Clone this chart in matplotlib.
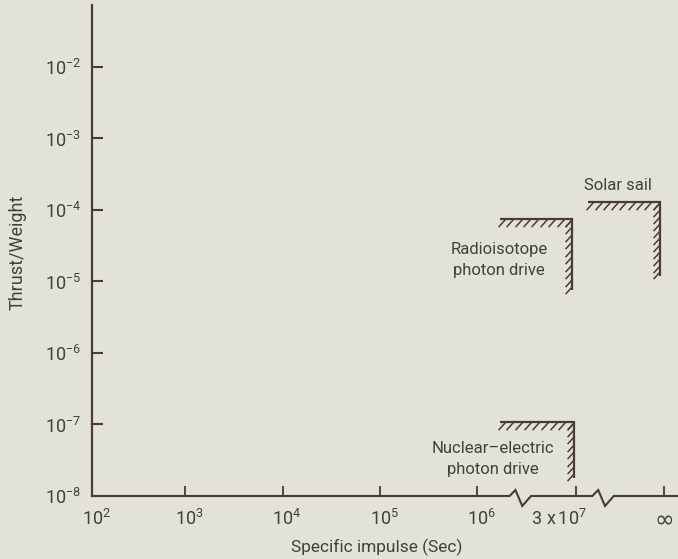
import numpy as np
import matplotlib
matplotlib.use("Agg")
import matplotlib.pyplot as plt
from matplotlib.path import Path
from matplotlib.transforms import blended_transform_factory, ScaledTranslation

FONT = ["Roboto", "DejaVu Sans"]
plt.rcParams["font.family"] = FONT
plt.rcParams["mathtext.fontset"] = "custom"
plt.rcParams["mathtext.rm"] = "Roboto"
plt.rcParams["mathtext.it"] = "Roboto"

INK = "#4a3a38"
TXT = "#404040"
BG = "#e3e2d7"

# x axis: positions along a broken, decade-spaced specific-impulse scale
x_tick_pos = [0.0, 0.96, 1.96, 2.96, 3.96, 4.97, 5.88]
x_tick_labels = [r"$10^{2}$", r"$10^{3}$", r"$10^{4}$", r"$10^{5}$",
                 r"$10^{6}$", r"$3\ \mathrm{x}\,10^{7}$", "∞"]
y_ticks = [1e-8, 1e-7, 1e-6, 1e-5, 1e-4, 1e-3, 1e-2]
y_tick_labels = [r"$10^{-8}$", r"$10^{-7}$", r"$10^{-6}$", r"$10^{-5}$",
                 r"$10^{-4}$", r"$10^{-3}$", r"$10^{-2}$"]

# propulsion regions: left end, corner (x position), top and bottom thrust/weight
systems = ["Radioisotope\nphoton drive", "Solar sail", "Nuclear\u2013electric\nphoton drive"]
x_left = [4.19, 5.10, 4.19]
x_corner = [4.93, 5.83, 4.95]
y_top = [7.5e-5, 1.3e-4, 1.1e-7]
y_bottom = [7.5e-6, 1.2e-5, 1.8e-8]

# axis breaks on the specific impulse scale
break_pos = [4.29, 5.14]

fig = plt.figure(figsize=(6.78, 5.59), dpi=100)
fig.patch.set_facecolor(BG)
ax = fig.add_axes([92 / 678, 63 / 559, 586 / 678, 491 / 559])
ax.set_facecolor(BG)

ax.set_yscale("log")
ax.set_xlim(0, 6.02)
ax.set_ylim(1e-8, 10 ** -1.133)

for s in ["top", "right", "bottom"]:
    ax.spines[s].set_visible(False)
ax.spines["left"].set_color(INK)
ax.spines["left"].set_linewidth(1.6)

ax.set_yticks(y_ticks)
ax.set_yticklabels(y_tick_labels)
ax.yaxis.set_minor_locator(matplotlib.ticker.NullLocator())
ax.tick_params(axis="y", direction="in", length=8, width=1.5, color=INK,
               pad=8, labelsize=13, labelcolor=TXT)

ax.set_xticks(x_tick_pos)
ax.set_xticklabels(x_tick_labels)
ax.tick_params(axis="x", direction="in", length=7, width=1.3, color=INK,
               pad=9, labelsize=13, labelcolor=TXT)
xlabels = ax.get_xticklabels()
for i, lbl in enumerate(xlabels):
    dx = 3 if i < 5 else (-12 if i == 5 else 0)
    lbl.set_transform(lbl.get_transform()
                      + ScaledTranslation(dx / 72, 0, fig.dpi_scale_trans))
xlabels[-1].set_fontsize(17)
xlabels[-1].set_family(["DejaVu Sans"])
xlabels[-1].set_fontweight("normal")

# broken x axis line with zig-zag break marks
bt = blended_transform_factory(ax.transData, ax.transAxes)
up, dn = 6 / 491, 10 / 491
xs = [0.0]
ys = [0.0]
for b in break_pos:
    xs += [b, b + 0.06, b + 0.13, b + 0.22]
    ys += [0.0, up, -dn, 0.0]
xs.append(6.02)
ys.append(0.0)
ax.plot(xs, ys, color=INK, lw=1.5, transform=bt, clip_on=False,
        solid_joinstyle="miter")

# hatched boundaries
hatch = Path([(0, 0), (-1, -1.1)], [Path.MOVETO, Path.LINETO])
for xl, xc, yt, yb in zip(x_left, x_corner, y_top, y_bottom):
    ax.plot([xl, xc, xc], [yt, yt, yb], color=INK, lw=1.6,
            solid_joinstyle="miter", solid_capstyle="butt")
    n_h = int(round((xc - xl) * 97.3 / 8))
    hx = np.linspace(xl + 0.05, xc, n_h)
    ax.plot(hx, np.full_like(hx, yt), ls="none", marker=hatch, ms=11,
            mec=INK, mew=1.1)
    n_v = int(round(np.log10(yt / yb) * 71.5 / 7))
    hy = np.geomspace(yb * 1.15, yt, n_v)
    ax.plot(np.full_like(hy, xc), hy, ls="none", marker=hatch, ms=11,
            mec=INK, mew=1.1)

# labels for each region
label_xy = [(4.18, 2.0e-5), (5.40, 2.2e-4), (4.12, 3.3e-8)]
for name, (tx, ty) in zip(systems, label_xy):
    ax.text(tx, ty, name, ha="center", va="center", fontsize=12,
            color=TXT, linespacing=1.5)

fig.text(377 / 678, 1 - 547 / 559, "Specific impulse (Sec)", ha="center",
         va="center", fontsize=12.5, color=TXT)
fig.text(18 / 678, 1 - 252 / 559, "Thrust/Weight", ha="center", va="center",
         rotation=90, fontsize=13, color=TXT)

fig.savefig("out.png", dpi=100, facecolor=BG)
